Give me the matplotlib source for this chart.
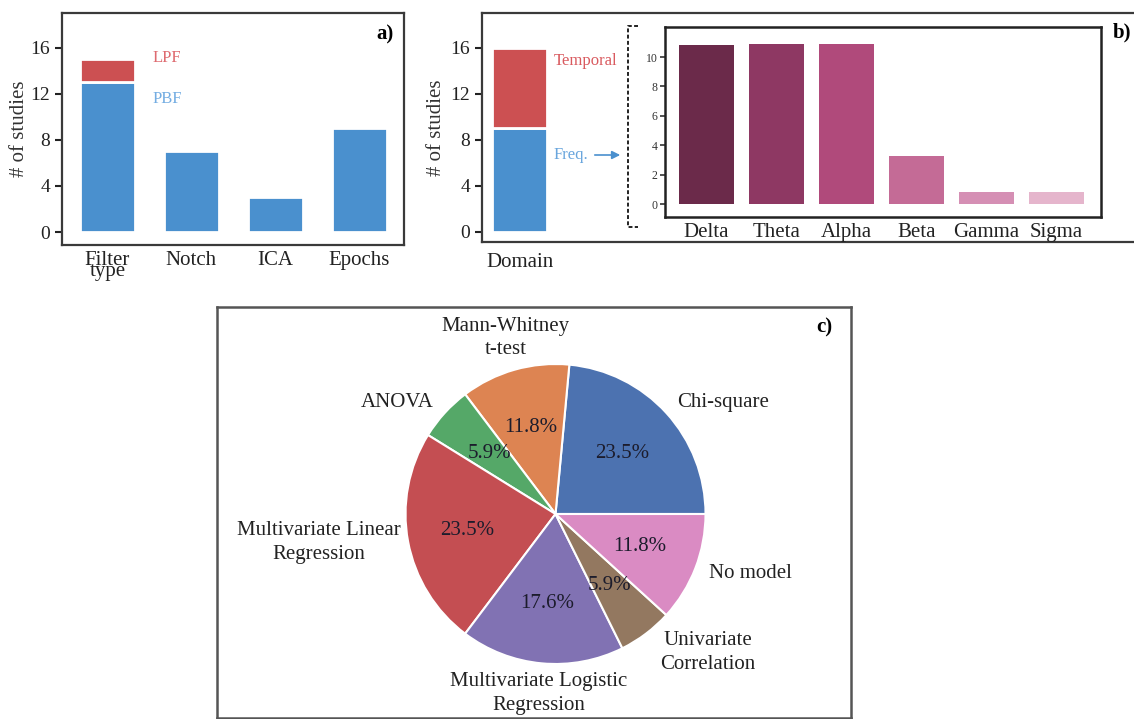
import matplotlib
matplotlib.use("Agg")
import matplotlib.pyplot as plt
from matplotlib.lines import Line2D
import numpy as np

plt.rcParams['font.family'] = 'serif'
plt.rcParams['font.serif'] = ['Liberation Serif', 'DejaVu Serif']

# panel a: preprocessing
prep_steps = ["Filter\ntype", "Notch", "ICA", "Epochs"]
prep_counts = [13, 7, 3, 9]     # PBF for filter type
lpf_count = 2

# panel b: domain + frequency bands
domain_label = ["Domain"]
freq_count = 9
temporal_count = 7
bands = ["Delta", "Theta", "Alpha", "Beta", "Gamma", "Sigma"]
band_counts = [10.8, 10.9, 10.9, 3.3, 0.8, 0.8]
band_colors = ["#6b2a4a", "#8e3863", "#b04a7b", "#c46b96", "#d58fb4", "#e5b5cc"]

# panel c: statistical methods
methods = ["Chi-square", "Mann-Whitney\nt-test", "ANOVA", "Multivariate Linear\nRegression",
           "Multivariate Logistic\nRegression", "Univariate\nCorrelation", "No model"]
method_counts = [4, 2, 1, 4, 3, 1, 2]
method_colors = ["#4c72b0", "#dd8452", "#55a868", "#c44e52", "#8172b3", "#937860", "#da8bc3"]

blue = "#4a90ce"
red = "#cc5052"
frame_col = "#3a3a3a"

W, H = 1134, 719
fig = plt.figure(figsize=(W / 100, H / 100), dpi=100)


def px_axes(l, t, r, b):
    return fig.add_axes([l / W, 1 - b / H, (r - l) / W, (b - t) / H])


def fx(px):
    return px / W


def fy(py):
    return 1 - py / H


def style_frame(ax, col=frame_col, lw=1.6):
    for s in ax.spines.values():
        s.set_color(col)
        s.set_linewidth(lw)


#----- a)
ax_a = px_axes(62, 13, 404, 245)
xa = np.arange(len(prep_steps))
ax_a.bar(xa, prep_counts, width=0.65, color=blue, edgecolor="white", linewidth=2)
ax_a.bar(xa[0], lpf_count, bottom=prep_counts[0], width=0.65, color=red, edgecolor="white", linewidth=2)
ax_a.set_xlim(-0.54, 3.53)
ax_a.set_ylim(-1.13, 19.04)
ax_a.set_yticks([0, 4, 8, 12, 16])
ax_a.set_xticks(xa)
ax_a.set_xticklabels(prep_steps, fontsize=15, linespacing=0.45, color="#222222")
ax_a.tick_params(axis='x', length=0, pad=4)
ax_a.tick_params(axis='y', labelsize=14, length=5, width=1.5, colors="#222222")
ax_a.set_ylabel("# of studies", fontsize=15, color="#333333", labelpad=1)
ax_a.text(0.54, 15.1, "LPF", color="#de6b70", fontsize=12, va="center")
ax_a.text(0.54, 11.57, "PBF", color="#74ade2", fontsize=12, va="center")
ax_a.text(0.97, 0.885, "a)", transform=ax_a.transAxes, fontsize=15, fontweight="bold", ha="right")
style_frame(ax_a)

#----- b) outer
ax_b = px_axes(482, 13, 1140, 242)
ax_b.bar(0, freq_count, width=0.65, color=blue, edgecolor="white", linewidth=2)
ax_b.bar(0, temporal_count, bottom=freq_count, width=0.65, color=red, edgecolor="white", linewidth=2)
ax_b.set_xlim(-0.443, 7.33)
ax_b.set_ylim(-0.87, 19.04)
ax_b.set_yticks([0, 4, 8, 12, 16])
ax_b.set_xticks([0])
ax_b.set_xticklabels(domain_label, fontsize=15, color="#222222")
ax_b.tick_params(axis='x', length=0, pad=8)
ax_b.tick_params(axis='y', labelsize=14, length=5, width=1.5, colors="#222222")
ax_b.set_ylabel("# of studies", fontsize=15, color="#333333", labelpad=3)
ax_b.text(0.4, 14.9, "Temporal", color="#d95a5f", fontsize=12, va="center")
ax_b.text(0.4, 6.7, "Freq.", color="#6aa6dd", fontsize=12, va="center")
ax_b.annotate("", xy=(fx(623), fy(155)), xytext=(fx(592), fy(155)),
              xycoords="figure fraction", textcoords="figure fraction",
              arrowprops=dict(arrowstyle="-|>", color=blue, lw=1.2, mutation_scale=12))
ax_b.text(fx(1113), fy(32), "b)", transform=fig.transFigure, fontsize=15, fontweight="bold", va="center")
style_frame(ax_b)

# dashed bracket linking Freq. to the band inset
bx = [fx(638), fx(628), fx(628), fx(638)]
by = [fy(26), fy(26), fy(227), fy(227)]
fig.add_artist(Line2D(bx, by, transform=fig.transFigure, color="#222222",
                      lw=1.4, linestyle=(0, (2, 1.2))))

#----- b) inset
ax_in = px_axes(665, 27, 1101, 217)
xb = np.arange(len(bands))
ax_in.bar(xb, band_counts, width=0.786, color=band_colors)
ax_in.set_xlim(-0.593, 5.636)
ax_in.set_ylim(-0.88, 12.04)
ax_in.set_yticks([0, 2, 4, 6, 8, 10])
ax_in.set_xticks(xb)
ax_in.set_xticklabels(bands, fontsize=15, color="#222222")
ax_in.tick_params(axis='x', length=0, pad=4)
ax_in.tick_params(axis='y', labelsize=8.5, length=3.5, width=1.2, colors="#333333", pad=2)
style_frame(ax_in, col="#222222", lw=1.8)

#----- c) pie
ax_c = px_axes(217, 307, 851, 718)
wedges, texts, autotexts = ax_c.pie(method_counts, labels=methods, colors=method_colors,
                                    startangle=0, counterclock=True, autopct="%1.1f%%",
                                    pctdistance=0.6, labeldistance=1.1,
                                    wedgeprops=dict(edgecolor="white", linewidth=1.5),
                                    textprops=dict(fontsize=15, color="#222222"))
label_dist = [1.1, 1.22, 1.1, 1.05, 1.2, 1.16, 1.1]
label_ha = ["left", "center", "right", "right", "center", "left", "left"]
for w, t, d, ha in zip(wedges, texts, label_dist, label_ha):
    ang = np.deg2rad((w.theta1 + w.theta2) / 2)
    t.set_position((d * np.cos(ang), d * np.sin(ang)))
    t.set_ha(ha)
    t.set_va("center")
    t.set_multialignment("center")
    t.set_linespacing(1.35)
for t in autotexts:
    t.set_color("#1c1c2c")
ax_c.set_aspect("equal")
ax_c.set_xlim(-2.257, 1.97)
ax_c.set_ylim(-1.36, 1.38)
ax_c.set_frame_on(True)
style_frame(ax_c, col="#555555", lw=1.8)
ax_c.text(0.97, 0.95, "c)", transform=ax_c.transAxes, fontsize=15, fontweight="bold",
          ha="right", va="center")

fig.savefig("out.png", dpi=100)
